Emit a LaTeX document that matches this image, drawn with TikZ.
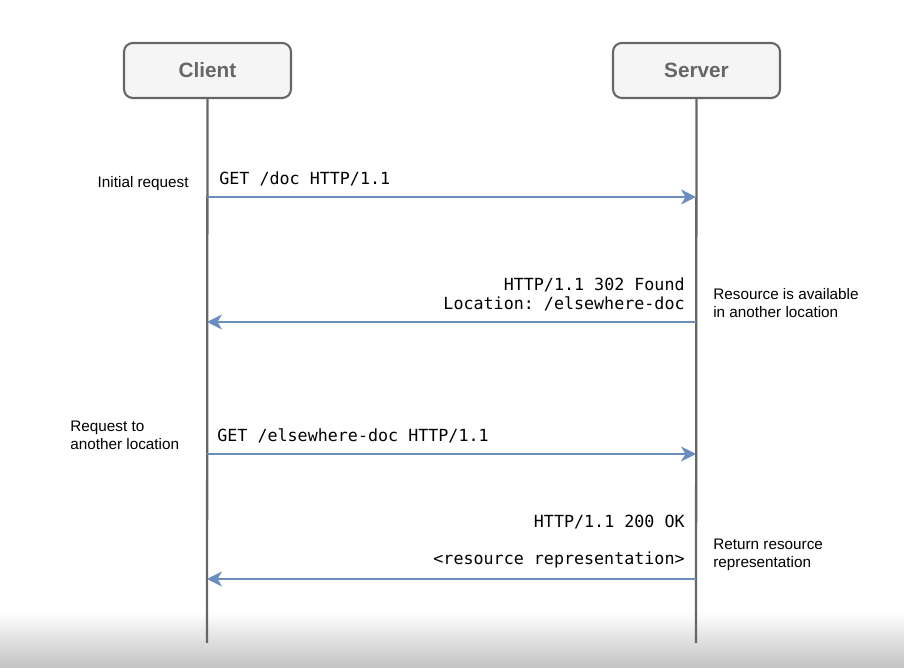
\documentclass[tikz,border=0pt]{standalone}
\usepackage{fontspec}
\setmainfont{Liberation Sans}
\setmonofont{DejaVu Sans Mono}
\usetikzlibrary{arrows.meta}

\definecolor{msgblue}{HTML}{6C8EBF}
\definecolor{linegray}{HTML}{666666}
\definecolor{boxfill}{HTML}{F5F5F5}

\tikzset{
	actor/.style={draw=linegray, fill=boxfill, line width=1.2pt, rounded corners=5pt,
		minimum width=3.34cm, minimum height=1.1cm,
		font=\fontsize{11.8}{14}\selectfont\bfseries, text=linegray},
	lifeline/.style={draw=linegray, line width=1.3pt},
	msg/.style={draw=msgblue, line width=1.3pt, -{Stealth[length=8.5pt,width=8.5pt,inset=2.5pt]}},
	msgtext/.style={font=\ttfamily\fontsize{9.5}{10.8}\selectfont, inner sep=0pt},
	note/.style={font=\fontsize{8.7}{10.2}\selectfont, align=left, inner sep=0pt}
}

\begin{document}
\begin{tikzpicture}[x=0.02cm,y=0.02cm]
	% page and the grey fade at the bottom
	\useasboundingbox (0,-668) rectangle (904,0);
	\shade[top color=white, bottom color=black!24] (0,-612) rectangle (904,-668);

	% the two parties
	\node[actor] (client) at (207.5,-70.5) {Client};
	\node[actor] (server) at (696.5,-70.5) {Server};

	\coordinate (cend) at (207,-643);
	\coordinate (send) at (696,-643);
	\draw[lifeline] (client) -- (cend);
	\draw[lifeline] (server) -- (send);

	% ends of the messages on the lifelines
	\coordinate (c1) at (207,-197);
	\coordinate (s1) at (696,-197);
	\coordinate (c2) at (207,-322);
	\coordinate (s2) at (696,-322);
	\coordinate (c3) at (207,-454);
	\coordinate (s3) at (696,-454);
	\coordinate (c4) at (207,-579);
	\coordinate (s4) at (696,-579);

	% first request
	\draw[msg] (c1) -- (s1);
	\node[msgtext, anchor=west] (get1) at (219,-179) {GET /doc HTTP/1.1};
	\node[note, anchor=east] (initreq) at (189,-183.5) {Initial request};

	% redirect
	\draw[msg] (s2) -- (c2);
	\node[msgtext, anchor=east, align=right] (found) at (685,-294.5) {HTTP/1.1 302 Found\\Location: /elsewhere-doc};
	\node[note, anchor=west] (moved) at (713,-303.5) {Resource is available\\in another location};

	% second request
	\draw[msg] (c3) -- (s3);
	\node[msgtext, anchor=west] (get2) at (217,-436) {GET /elsewhere-doc HTTP/1.1};
	\node[note, anchor=west] (reqother) at (70,-435.5) {Request to\\another location};

	% answer
	\draw[msg] (s4) -- (c4);
	\node[msgtext, anchor=east] (ok) at (685,-522) {HTTP/1.1 200 OK};
	\node[msgtext, anchor=east] (repr) at (685,-560) {<resource representation>};
	\node[note, anchor=west] (retres) at (713,-554.5) {Return resource\\representation};
\end{tikzpicture}
\end{document}
